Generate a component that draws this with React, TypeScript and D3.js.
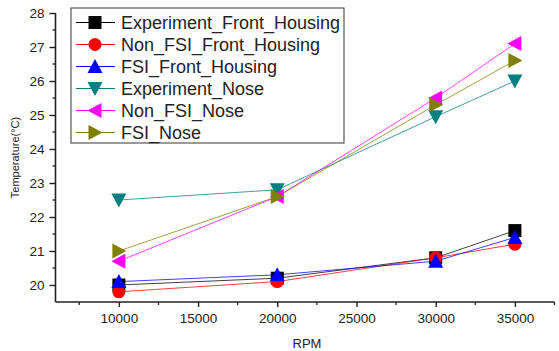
import React, { useEffect, useRef } from 'react';
import * as d3 from 'd3';

const rpm = [10000, 20000, 30000, 35000];
const expFront = [20.0, 20.2, 20.8, 21.6];
const nonFsiFront = [19.8, 20.1, 20.8, 21.2];
const fsiFront = [20.1, 20.3, 20.7, 21.4];
const expNose = [22.5, 22.8, 24.95, 26.0];
const nonFsiNose = [20.7, 22.6, 25.5, 27.1];
const fsiNose = [21.0, 22.6, 25.3, 26.6];
const seriesNames = [
    'Experiment_Front_Housing',
    'Non_FSI_Front_Housing',
    'FSI_Front_Housing',
    'Experiment_Nose',
    'Non_FSI_Nose',
    'FSI_Nose',
];
const xTicks = [10000, 15000, 20000, 25000, 30000, 35000];
const yTicks = [20, 21, 22, 23, 24, 25, 26, 27, 28];

const series = [
    { name: seriesNames[0], values: expFront, color: '#000000', shape: 'square' },
    { name: seriesNames[1], values: nonFsiFront, color: '#ff0000', shape: 'circle' },
    { name: seriesNames[2], values: fsiFront, color: '#0000ff', shape: 'up' },
    { name: seriesNames[3], values: expNose, color: '#008080', shape: 'down' },
    { name: seriesNames[4], values: nonFsiNose, color: '#ff00ff', shape: 'left' },
    { name: seriesNames[5], values: fsiNose, color: '#808000', shape: 'right' },
];

// marker path centred on 0,0
const markerPath = (shape: string, s: number) => {
    const h = s / 2;
    switch (shape) {
        case 'square': return `M${-h},${-h}H${h}V${h}H${-h}Z`;
        case 'circle': return d3.symbol(d3.symbolCircle, Math.PI * h * h)() as string;
        case 'up': return `M0,${-h - 1}L${h + 1},${h}L${-h - 1},${h}Z`;
        case 'down': return `M0,${h + 1}L${h + 1},${-h}L${-h - 1},${-h}Z`;
        case 'left': return `M${-h - 1},0L${h},${-h - 1}L${h},${h + 1}Z`;
        default: return `M${h + 1},0L${-h},${-h - 1}L${-h},${h + 1}Z`;
    }
};

const App = () => {
    const svgRef = useRef<SVGSVGElement>(null);
    useEffect(() => {
        const svg = d3.select(svgRef.current);
        svg.selectAll('*').remove();
        const width = 559;
        const height = 351;

        const x = d3.scaleLinear().domain([6000, 37500]).range([55.5, 554.5]);
        const y = d3.scaleLinear().domain([19.5, 28]).range([302, 13]);
        const left = x(6000);
        const bottom = y(19.5);
        const font = 'Arial, "Liberation Sans", sans-serif';

        // axes (ticks point outwards)
        const xAxis = d3.axisBottom(x).tickValues(xTicks).tickSize(5).tickFormat(d3.format('d'));
        const gx = svg.append('g').attr('transform', `translate(0,${bottom})`).call(xAxis);
        gx.select('.domain').attr('d', `M${left},0H${x(37500)}`).attr('stroke-width', 1.6).attr('stroke', '#222');
        gx.selectAll('.tick line').attr('stroke', '#222').attr('stroke-width', 1.4);
        gx.selectAll('.tick text').attr('y', 16).attr('dy', '0.35em')
            .attr('font-size', 13.5).attr('font-family', font).attr('fill', '#222');
        const xMinor = d3.range(7500, 37600, 5000);
        gx.selectAll('.minor').data(xMinor).join('line')
            .attr('x1', d => x(d)).attr('x2', d => x(d)).attr('y1', 0).attr('y2', 3)
            .attr('stroke', '#222').attr('stroke-width', 1.3);

        const yAxis = d3.axisLeft(y).tickValues(yTicks).tickSize(6);
        const gy = svg.append('g').attr('transform', `translate(${left},0)`).call(yAxis);
        gy.select('.domain').attr('d', `M0,${bottom}V${y(28)}`).attr('stroke-width', 1.6).attr('stroke', '#222');
        gy.selectAll('.tick line').attr('stroke', '#222').attr('stroke-width', 1.4);
        gy.selectAll('.tick text').attr('x', -11).attr('font-size', 13.5).attr('font-family', font).attr('fill', '#222');
        const yMinor = d3.range(20.5, 28, 1);
        gy.selectAll('.minor').data(yMinor).join('line')
            .attr('y1', d => y(d)).attr('y2', d => y(d)).attr('x1', 0).attr('x2', -3)
            .attr('stroke', '#222').attr('stroke-width', 1.3);

        svg.append('text')
            .attr('transform', `translate(19,${(bottom + 13) / 2}) rotate(-90)`)
            .attr('text-anchor', 'middle')
            .attr('font-size', 11).attr('font-family', font).attr('fill', '#222')
            .text('Temperature(°C)');
        svg.append('text')
            .attr('x', 307).attr('y', 343).attr('dy', '0.35em')
            .attr('text-anchor', 'middle')
            .attr('font-size', 13).attr('font-family', font).attr('fill', '#222')
            .text('RPM');

        // lines and markers
        const line = d3.line<number>().x((_, i) => x(rpm[i])).y(d => y(d));
        series.forEach(s => {
            svg.append('path').attr('d', line(s.values)).attr('fill', 'none')
                .attr('stroke', s.color).attr('stroke-width', 1).attr('stroke-opacity', 0.75);
        });
        series.forEach(s => {
            svg.append('g').selectAll('path').data(s.values).join('path')
                .attr('transform', (d, i) => `translate(${x(rpm[i])},${y(d)})`)
                .attr('d', markerPath(s.shape, 13))
                .attr('fill', s.color);
        });

        // legend
        const lg = svg.append('g');
        lg.append('rect').attr('x', 71).attr('y', 8).attr('width', 273).attr('height', 135)
            .attr('fill', 'white').attr('stroke', '#555').attr('stroke-width', 1.2);
        series.forEach((s, i) => {
            const ly = 22.5 + i * 22;
            lg.append('line').attr('x1', 76).attr('x2', 115).attr('y1', ly).attr('y2', ly)
                .attr('stroke', s.color).attr('stroke-width', 1);
            lg.append('path').attr('transform', `translate(95,${ly})`)
                .attr('d', markerPath(s.shape, 13)).attr('fill', s.color);
            lg.append('text').attr('x', 121).attr('y', ly).attr('dy', '0.36em')
                .attr('font-size', 18).attr('font-family', font).attr('fill', '#222')
                .text(s.name);
        });

        svg.attr('width', width).attr('height', height);
    }, []);

    return (
        <svg ref={svgRef} width={559} height={351}
            style={{ position: 'absolute', left: 0, top: 0, background: 'white' }} />
    );
};

export default App;
